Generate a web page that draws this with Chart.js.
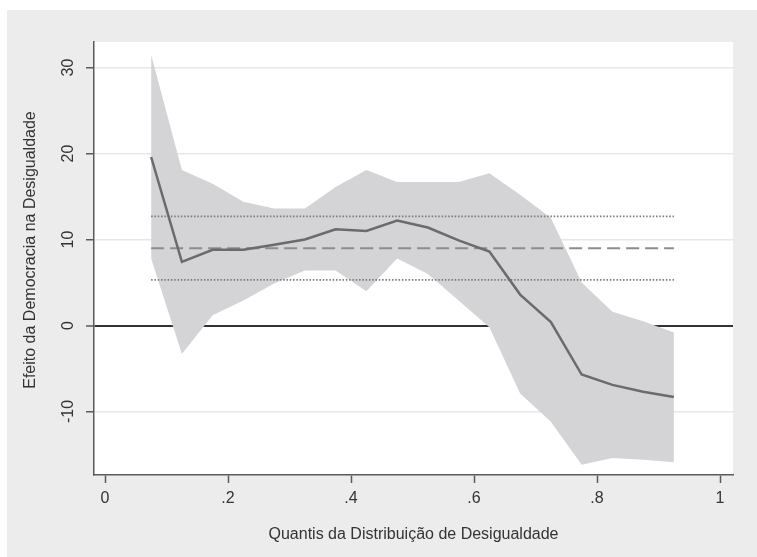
<!DOCTYPE html>
<html>
<head>
<meta charset="utf-8">
<script src="https://cdn.jsdelivr.net/npm/chart.js@4/dist/chart.umd.min.js"></script>
<style>
  html, body { margin: 0; padding: 0; background: #ffffff; }
  canvas { display: block; }
</style>
</head>
<body>
<canvas id="chart" width="757" height="557"></canvas>
<script>
// Quantiles of the inequality distribution
const quantiles = [0.075, 0.125, 0.175, 0.225, 0.275, 0.325, 0.375, 0.425, 0.475,
                   0.525, 0.575, 0.625, 0.675, 0.725, 0.775, 0.825, 0.875, 0.925];
// Estimated effect of democracy on inequality at each quantile
const effect = [19.6, 7.4, 8.8, 8.8, 9.4, 10.0, 11.2, 11.0, 12.2,
                11.4, 9.9, 8.6, 3.6, 0.4, -5.7, -6.9, -7.7, -8.3];
// Confidence interval bounds
const upperCI = [31.5, 18.1, 16.5, 14.4, 13.6, 13.6, 16.1, 18.1, 16.7,
                 16.7, 16.7, 17.7, 15.2, 12.5, 5.0, 1.6, 0.5, -0.8];
const lowerCI = [7.8, -3.3, 1.2, 2.9, 4.9, 6.4, 6.4, 4.0, 7.8,
                 6.0, 2.9, -0.2, -7.9, -11.2, -16.2, -15.4, -15.6, -15.9];
// Average (OLS) effect and its confidence interval
const meanEffect = 9.0;
const meanLow = 5.3;
const meanHigh = 12.7;

// Axis ticks and labels
const xTicks = [0, 0.2, 0.4, 0.6, 0.8, 1];
const xTickLabels = ['0', '.2', '.4', '.6', '.8', '1'];
const yTicks = [-10, 0, 10, 20, 30];
const yTickLabels = ['-10', '0', '10', '20', '30'];
const xTitle = 'Quantis da Distribuição de Desigualdade';
const yTitle = 'Efeito da Democracia na Desigualdade';

const pts = (ys) => quantiles.map((q, i) => ({ x: q, y: ys[i] }));
const flat = (v) => [{ x: quantiles[0], y: v }, { x: quantiles[quantiles.length - 1], y: v }];

const FONT = '16px "Liberation Sans", Arial, sans-serif';
const TEXT = '#333333';

const panelPlugin = {
  id: 'panel',
  beforeDraw(chart) {
    const { ctx, width, height, chartArea: a } = chart;
    ctx.save();
    ctx.fillStyle = '#ffffff';
    ctx.fillRect(0, 0, width, height);
    ctx.fillStyle = '#ececec';
    ctx.fillRect(7, 10, width - 7, height - 10);
    ctx.fillStyle = '#ffffff';
    ctx.fillRect(a.left, a.top, a.right - a.left, a.bottom - a.top);
    ctx.restore();
  }
};

const labelPlugin = {
  id: 'labels',
  afterDraw(chart) {
    const { ctx, chartArea: a } = chart;
    const xs = chart.scales.x, ys = chart.scales.y;
    ctx.save();
    ctx.font = FONT;
    ctx.fillStyle = TEXT;
    ctx.textAlign = 'center';
    ctx.textBaseline = 'middle';
    xTicks.forEach((v, i) => {
      ctx.fillText(xTickLabels[i], xs.getPixelForValue(v), 499);
    });
    yTicks.forEach((v, i) => {
      ctx.save();
      ctx.translate(69, ys.getPixelForValue(v));
      ctx.rotate(-Math.PI / 2);
      ctx.fillText(yTickLabels[i], 0, 0);
      ctx.restore();
    });
    ctx.fillText(xTitle, (a.left + a.right) / 2, 535);
    ctx.save();
    ctx.translate(31, 250);
    ctx.rotate(-Math.PI / 2);
    ctx.fillText(yTitle, 0, 0);
    ctx.restore();
    ctx.restore();
  }
};

new Chart(document.getElementById('chart'), {
  type: 'line',
  data: {
    datasets: [
      {
        label: 'lower',
        data: pts(lowerCI),
        borderWidth: 0,
        borderColor: 'rgba(0,0,0,0)',
        pointRadius: 0,
        fill: false,
        order: 5
      },
      {
        label: 'upper',
        data: pts(upperCI),
        borderWidth: 0,
        borderColor: 'rgba(0,0,0,0)',
        backgroundColor: '#d4d4d6',
        pointRadius: 0,
        fill: '-1',
        order: 4
      },
      {
        label: 'meanHigh',
        data: flat(meanHigh),
        borderColor: '#7a7a7a',
        borderWidth: 1.8,
        borderDash: [1.5, 1.8],
        pointRadius: 0,
        order: 3
      },
      {
        label: 'meanLow',
        data: flat(meanLow),
        borderColor: '#7a7a7a',
        borderWidth: 1.8,
        borderDash: [1.5, 1.8],
        pointRadius: 0,
        order: 3
      },
      {
        label: 'mean',
        data: flat(meanEffect),
        borderColor: '#8c8c8c',
        borderWidth: 2,
        borderDash: [13, 6],
        pointRadius: 0,
        order: 2
      },
      {
        label: 'effect',
        data: pts(effect),
        borderColor: '#6b6b6b',
        borderWidth: 2.5,
        pointRadius: 0,
        order: 1
      }
    ]
  },
  options: {
    responsive: false,
    animation: false,
    devicePixelRatio: 1,
    layout: { padding: { left: 86, right: 24, top: 42, bottom: 74 } },
    plugins: {
      legend: { display: false },
      tooltip: { enabled: false }
    },
    elements: { line: { tension: 0 } },
    scales: {
      x: {
        type: 'linear',
        min: -0.0179,
        max: 1.0211,
        afterBuildTicks: (s) => { s.ticks = xTicks.map(v => ({ value: v })); },
        ticks: { display: false },
        grid: {
          drawOnChartArea: false,
          drawTicks: true,
          tickLength: 8,
          tickColor: '#5a5a5a',
          tickWidth: 1.5
        },
        border: { display: true, color: '#5a5a5a', width: 1.5 }
      },
      y: {
        type: 'linear',
        min: -17.38,
        max: 32.97,
        afterBuildTicks: (s) => { s.ticks = yTicks.map(v => ({ value: v })); },
        ticks: { display: false },
        grid: {
          color: (c) => (c.tick && c.tick.value === 0 ? '#333333' : '#e8e8e8'),
          lineWidth: (c) => (c.tick && c.tick.value === 0 ? 2 : 1.5),
          drawTicks: true,
          tickLength: 8,
          tickColor: '#5a5a5a',
          tickWidth: 1.5
        },
        border: { display: true, color: '#5a5a5a', width: 1.5 }
      }
    }
  },
  plugins: [panelPlugin, labelPlugin]
});
</script>
</body>
</html>
